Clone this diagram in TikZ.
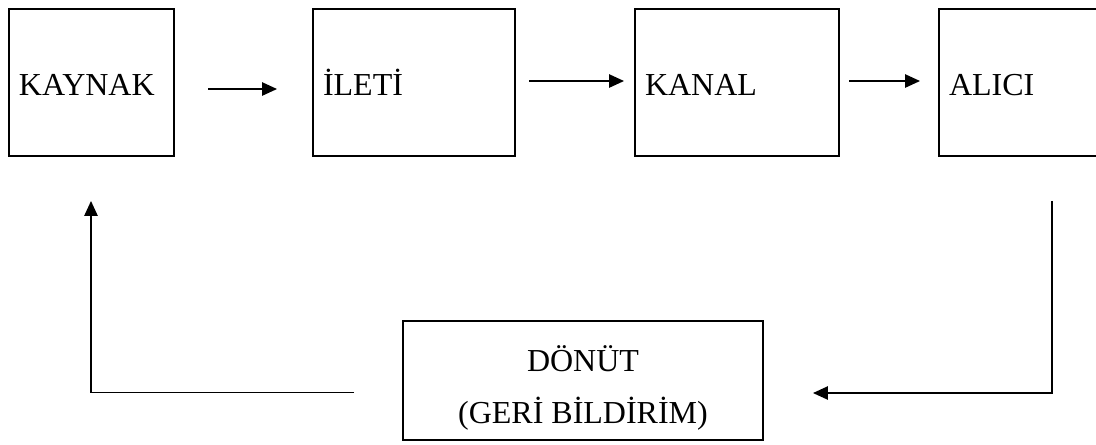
\documentclass[tikz,border=0pt]{standalone}
\usepackage{fontspec}
\setmainfont{Liberation Serif}
\usetikzlibrary{arrows.meta,calc}

\tikzset{
	blok/.style={draw, line width=0.75pt, minimum height=55.1pt, inner xsep=3.75pt, align=left, font=\fontsize{12pt}{14.4pt}\selectfont, text height=9.4pt, text depth=0pt},
	donutblok/.style={draw, line width=0.75pt, minimum width=135pt, minimum height=44.6pt, align=center, font=\fontsize{12pt}{19.5pt}\selectfont},
	ok/.style={-{Triangle[length=5.6pt,width=5pt]}, line width=0.55pt}
}

\begin{document}
\begin{tikzpicture}[x=0.375pt, y=-0.375pt]
			%%%%% START %%%%%
			
			\clip (0, 0) rectangle (1096, 444);
			
			\node[blok, text width=54.4pt] (kaynak) at (91.5, 82.5) {KAYNAK};
			\node[blok, text width=68.25pt] (ileti) at (414, 82.5) {İLETİ};
			\node[blok, text width=69pt] (kanal) at (737, 82.5) {KANAL};
			\node[blok, text width=69pt] (alici) at (1041, 82.5) {ALICI};
			
			\node[donutblok] (donut) at (583, 380.5) {\rule{0pt}{15.4pt}DÖNÜT\\(GERİ BİLDİRİM)};
			
			\draw[ok] ($(kaynak.east)+(33, 6.5)$) -- ($(ileti.west)+(-35, 6.5)$);
			\draw[ok] ($(ileti.east)+(13, -1.5)$) -- ($(kanal.west)+(-10, -1.5)$);
			\draw[ok] ($(kanal.east)+(9, -1.5)$) -- ($(alici.west)+(-18, -1.5)$);
			
			\draw[ok] ($(alici.south)+(11, 44)$) |- ($(donut.east)+(49, 12.5)$);
			\draw[ok] ($(donut.west)+(-48, 12)$) -| ($(kaynak.south)+(-0.5, 44)$);
			
			%%%%% END %%%%%
\end{tikzpicture}
\end{document}
